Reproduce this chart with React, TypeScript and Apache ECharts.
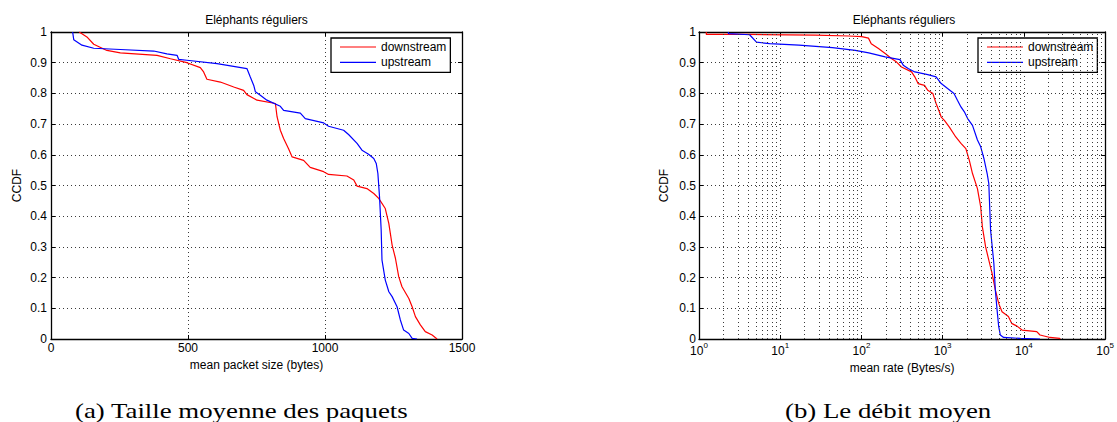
import React, { useEffect, useRef } from "react";
import * as echarts from "echarts";

// (a) mean packet size (bytes) vs CCDF
const sizeDownX = [103, 131, 156, 204, 253, 387, 436, 496, 545, 557, 569, 618, 667, 703, 715, 752, 819, 825, 837, 849, 867, 880, 922, 946, 995, 1013, 1080, 1105, 1117, 1153, 1178, 1196, 1220, 1233, 1245, 1257, 1269, 1281, 1306, 1318, 1330, 1348, 1366, 1391, 1409];
const sizeDownY = [1, 0.984, 0.96, 0.94, 0.932, 0.924, 0.913, 0.9, 0.884, 0.87, 0.846, 0.837, 0.821, 0.81, 0.796, 0.778, 0.767, 0.724, 0.68, 0.653, 0.62, 0.593, 0.582, 0.559, 0.545, 0.536, 0.531, 0.518, 0.498, 0.49, 0.474, 0.458, 0.425, 0.376, 0.306, 0.263, 0.203, 0.17, 0.132, 0.105, 0.073, 0.046, 0.024, 0.013, 0];
const sizeUpX = [79, 83, 113, 156, 253, 375, 423, 460, 466, 496, 606, 715, 727, 740, 746, 764, 788, 837, 849, 910, 928, 995, 1013, 1068, 1086, 1117, 1135, 1159, 1178, 1187, 1193, 1199, 1205, 1208, 1220, 1233, 1245, 1263, 1275, 1287, 1306, 1318, 1336];
const sizeUpY = [1, 0.975, 0.957, 0.947, 0.943, 0.938, 0.929, 0.924, 0.911, 0.908, 0.897, 0.881, 0.854, 0.826, 0.805, 0.794, 0.778, 0.758, 0.745, 0.736, 0.718, 0.704, 0.693, 0.68, 0.666, 0.637, 0.615, 0.602, 0.588, 0.572, 0.539, 0.463, 0.355, 0.257, 0.192, 0.154, 0.138, 0.105, 0.062, 0.029, 0.018, 0.002, 0];

// (b) mean rate (Bytes/s) vs CCDF
const rateDownX = [1.23, 1.23, 4.2, 27, 70, 101, 122, 132, 162, 196, 236, 271, 311, 414, 454, 498, 598, 656, 757, 830, 910, 960, 1050, 1210, 1450, 1680, 1930, 2130, 2330, 2560, 2680, 2940, 3080, 3380, 3700, 4060, 4450, 4900, 5380, 6450, 7070, 8220, 9500, 14400, 15800, 21000, 27600, 28000];
const rateDownY = [1, 0.992, 0.992, 0.99, 0.987, 0.985, 0.98, 0.962, 0.946, 0.93, 0.913, 0.902, 0.886, 0.87, 0.854, 0.832, 0.826, 0.81, 0.8, 0.767, 0.74, 0.723, 0.712, 0.69, 0.658, 0.637, 0.62, 0.582, 0.539, 0.506, 0.49, 0.43, 0.366, 0.3, 0.257, 0.214, 0.16, 0.116, 0.089, 0.073, 0.051, 0.042, 0.029, 0.024, 0.013, 0.005, 0.002, 0];
const rateUpX = [2.3, 2.3, 4.2, 5.1, 7.4, 17, 44, 84, 123, 196, 298, 327, 376, 454, 656, 830, 960, 1150, 1380, 1520, 1680, 1850, 2030, 2330, 2680, 2940, 3220, 3530, 3700, 3890, 4270, 4450, 4680, 4900, 5130, 5630, 9100, 15800];
const rateUpY = [1, 0.995, 0.991, 0.967, 0.962, 0.957, 0.949, 0.94, 0.932, 0.919, 0.91, 0.892, 0.881, 0.87, 0.861, 0.854, 0.832, 0.816, 0.8, 0.778, 0.756, 0.74, 0.718, 0.696, 0.648, 0.626, 0.588, 0.539, 0.506, 0.355, 0.246, 0.16, 0.094, 0.04, 0.013, 0.005, 0.002, 0];

const seriesNames = ["downstream", "upstream"];
const titleText = "Eléphants réguliers";
const captionA = "(a) Taille moyenne des paquets";
const captionB = "(b) Le débit moyen";
const xNameA = "mean packet size (bytes)";
const xNameB = "mean rate (Bytes/s)";
const yName = "CCDF";
const logMinorGrid = [2, 3, 4, 5, 6, 7, 8, 9, 20, 30, 40, 50, 60, 70, 80, 90, 200, 300, 400, 500, 600, 700, 800, 900, 2000, 3000, 4000, 5000, 6000, 7000, 8000, 9000, 20000, 30000, 40000, 50000, 60000, 70000, 80000, 90000];

const SANS = "Liberation Sans";
const SERIF = "Liberation Serif";
const RED = "#ff0000";
const BLUE = "#0000ff";
const GRID_LINE = { color: "#3a3a3a", width: 1, type: [1, 3] as any };
const BOX_LINE = { color: "#000", width: 1.3 };

const zip = (xs: number[], ys: number[]) => xs.map((x, i) => [x, ys[i]]);

function baseAxis(extra: any) {
  return {
    axisLine: { show: true, onZero: false, lineStyle: BOX_LINE },
    axisTick: { show: true, inside: true, length: 4, lineStyle: { color: "#000", width: 1 } },
    axisLabel: { show: false },
    splitLine: { show: false },
    ...extra,
  };
}

function legendAt(left: number) {
  return {
    data: seriesNames,
    orient: "vertical",
    left,
    top: 38,
    icon: "rect",
    itemWidth: 36,
    itemHeight: 1.2,
    itemGap: 1.3,
    padding: [2, 4, 3, 9],
    backgroundColor: "#fff",
    borderColor: "#000",
    borderWidth: 1.3,
    borderRadius: 0,
    textStyle: { color: "#000", fontSize: 12, fontFamily: SANS, lineHeight: 14 },
  };
}

export default function App() {
  const ref = useRef<HTMLDivElement>(null);
  useEffect(() => {
    if (!ref.current) return;
    const chart = echarts.init(ref.current, null, { renderer: "svg" });
    const labelStyle = { color: "#000", fontSize: 12, fontFamily: SANS };
    const lineSeries = (name: string, xi: number, data: number[][], color: string) => ({
      type: "line",
      name,
      xAxisIndex: xi,
      yAxisIndex: xi,
      data,
      symbol: "none",
      lineStyle: { color, width: 1.2 },
      itemStyle: { color },
    });
    const option: any = {
      animation: false,
      backgroundColor: "#fff",
      grid: [
        { left: 51, top: 32, width: 411, height: 307 },
        { left: 699, top: 32, width: 410, height: 307 },
      ],
      legend: [legendAt(331), legendAt(978)],
      xAxis: [
        baseAxis({
          gridIndex: 0,
          type: "value",
          min: 0,
          max: 1500,
          interval: 500,
          position: "bottom",
          axisLabel: { show: true, ...labelStyle, margin: 3, formatter: (v: number) => String(v) },
          splitLine: { show: true, lineStyle: GRID_LINE },
          name: xNameA,
          nameLocation: "middle",
          nameGap: 18,
          nameTextStyle: labelStyle,
        }),
        baseAxis({ gridIndex: 0, type: "value", min: 0, max: 1500, interval: 500, position: "top" }),
        baseAxis({
          gridIndex: 1,
          type: "log",
          logBase: 10,
          min: 1,
          max: 100000,
          position: "bottom",
          axisLabel: {
            show: true,
            margin: 2,
            formatter: (v: number) => `{b|10}{s|${Math.round(Math.log10(v))}}`,
            rich: {
              b: { ...labelStyle, lineHeight: 14, padding: [6, 0, 0, 0] },
              s: { color: "#000", fontSize: 8, fontFamily: SANS, lineHeight: 9, verticalAlign: "top" },
            },
          },
          splitLine: { show: true, lineStyle: GRID_LINE },
          name: xNameB,
          nameLocation: "middle",
          nameGap: 22,
          nameTextStyle: labelStyle,
        }),
        baseAxis({ gridIndex: 1, type: "log", logBase: 10, min: 1, max: 100000, position: "top" }),
      ],
      yAxis: [
        baseAxis({
          gridIndex: 0,
          type: "value",
          min: 0,
          max: 1,
          interval: 0.1,
          position: "left",
          axisLabel: { show: true, ...labelStyle, margin: 4 },
          splitLine: { show: true, lineStyle: GRID_LINE },
          name: yName,
          nameLocation: "middle",
          nameGap: 28,
          nameTextStyle: labelStyle,
        }),
        baseAxis({ gridIndex: 0, type: "value", min: 0, max: 1, interval: 0.1, position: "right" }),
        baseAxis({
          gridIndex: 1,
          type: "value",
          min: 0,
          max: 1,
          interval: 0.1,
          position: "left",
          axisLabel: { show: true, ...labelStyle, margin: 3 },
          splitLine: { show: true, lineStyle: GRID_LINE },
          name: yName,
          nameLocation: "middle",
          nameGap: 29,
          nameTextStyle: labelStyle,
        }),
        baseAxis({ gridIndex: 1, type: "value", min: 0, max: 1, interval: 0.1, position: "right" }),
      ],
      series: [
        {
          type: "line",
          name: "minor-grid",
          xAxisIndex: 2,
          yAxisIndex: 2,
          data: [],
          silent: true,
          markLine: {
            silent: true,
            symbol: ["none", "none"],
            label: { show: false },
            lineStyle: GRID_LINE,
            emphasis: { disabled: true },
            data: logMinorGrid.map((v) => ({ xAxis: v })),
          },
        },
        lineSeries(seriesNames[0], 0, zip(sizeDownX, sizeDownY), RED),
        lineSeries(seriesNames[1], 0, zip(sizeUpX, sizeUpY), BLUE),
        lineSeries(seriesNames[0], 2, zip(rateDownX, rateDownY), RED),
        lineSeries(seriesNames[1], 2, zip(rateUpX, rateUpY), BLUE),
      ],
      graphic: [
        {
          type: "text",
          x: 256.5,
          y: 20,
          style: { text: titleText, fontFamily: SANS, fontSize: 12, fill: "#000", textAlign: "center", textVerticalAlign: "middle" },
        },
        {
          type: "text",
          x: 904,
          y: 20,
          style: { text: titleText, fontFamily: SANS, fontSize: 12, fill: "#000", textAlign: "center", textVerticalAlign: "middle" },
        },
        {
          type: "text",
          x: 75,
          y: 410,
          scaleX: 1.22,
          style: { text: captionA, fontFamily: SERIF, fontSize: 22, fill: "#000", textAlign: "left", textVerticalAlign: "middle" },
        },
        {
          type: "text",
          x: 785,
          y: 410,
          scaleX: 1.22,
          style: { text: captionB, fontFamily: SERIF, fontSize: 22, fill: "#000", textAlign: "left", textVerticalAlign: "middle" },
        },
      ],
    };
    chart.setOption(option);
    return () => chart.dispose();
  }, []);
  return (
    <div
      ref={ref}
      style={{ position: "absolute", left: 0, top: 0, width: 1117, height: 422, background: "#fff" }}
    />
  );
}
